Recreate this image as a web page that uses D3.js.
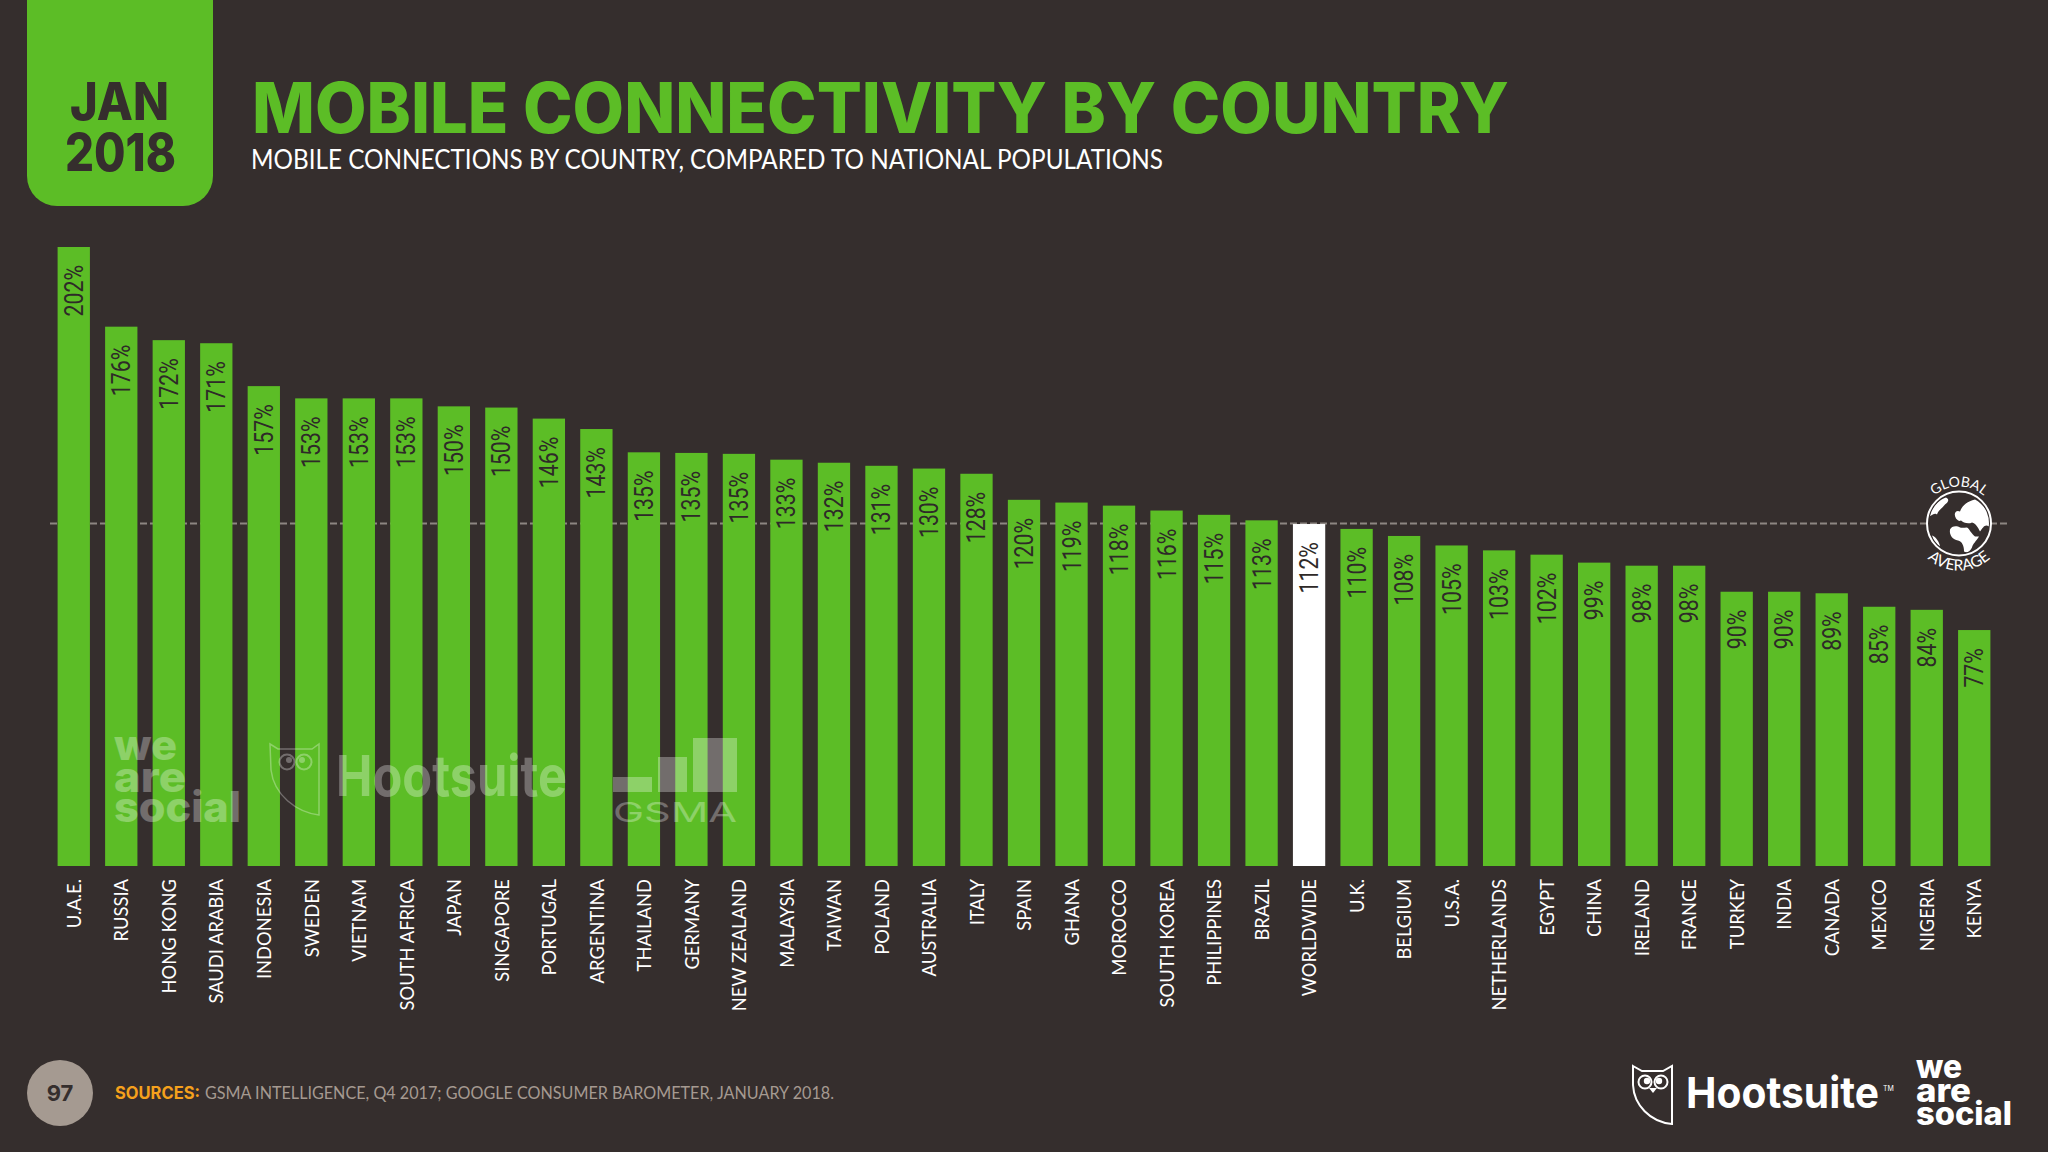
<!DOCTYPE html>
<html><head><meta charset="utf-8">
<script src="https://cdn.jsdelivr.net/npm/d3@7"></script>
<style>html,body{margin:0;padding:0;background:#352e2d;overflow:hidden}</style>
</head><body>
<svg id="c" width="2048" height="1152"></svg>
<script>
const countries = ["U.A.E.","RUSSIA","HONG KONG","SAUDI ARABIA","INDONESIA","SWEDEN","VIETNAM","SOUTH AFRICA","JAPAN","SINGAPORE","PORTUGAL","ARGENTINA","THAILAND","GERMANY","NEW ZEALAND","MALAYSIA","TAIWAN","POLAND","AUSTRALIA","ITALY","SPAIN","GHANA","MOROCCO","SOUTH KOREA","PHILIPPINES","BRAZIL","WORLDWIDE","U.K.","BELGIUM","U.S.A.","NETHERLANDS","EGYPT","CHINA","IRELAND","FRANCE","TURKEY","INDIA","CANADA","MEXICO","NIGERIA","KENYA"];
const penetration = [202,176,171.6,170.6,156.6,152.6,152.6,152.6,150,149.6,146,142.6,135,134.8,134.5,132.6,131.6,130.6,129.7,128,119.5,118.6,117.6,116,114.6,112.8,111.6,110,107.7,104.6,103,101.6,99,98,98,89.5,89.5,89,84.6,83.6,77];
const globalAverage = 111.8;
const highlighted = "WORLDWIDE";

const BG="#352e2d", GREEN="#5cbd26";
const svg=d3.select("#c");
svg.append("rect").attr("width",2048).attr("height",1152).attr("fill",BG);

const x=d3.scaleBand().domain(countries).range([50,1998]).paddingInner(0.32).paddingOuter(0.16);
const y=d3.scaleLinear().domain([0,202]).range([866,247]);

// average line
svg.append("line").attr("x1",50).attr("x2",2007).attr("y1",y(globalAverage)).attr("y2",y(globalAverage))
  .attr("stroke","#8d8682").attr("stroke-width",2).attr("stroke-dasharray","7 3");

// bars
svg.append("g").selectAll("rect").data(countries).join("rect")
  .attr("x",d=>x(d)).attr("width",x.bandwidth())
  .attr("y",(d,i)=>y(penetration[i])).attr("height",(d,i)=>y(0)-y(penetration[i]))
  .attr("fill",d=>d===highlighted?"#ffffff":GREEN);

// value labels
svg.append("g").selectAll("text").data(countries).join("text")
  .attr("transform",(d,i)=>`translate(${x(d)+x.bandwidth()/2+9},${y(penetration[i])+18}) rotate(-90) scale(0.82,1)`)
  .attr("text-anchor","end")
  .attr("font-family","Roboto,sans-serif")
  .attr("font-size",26).attr("fill","#2e2a28")
  .text((d,i)=>Math.round(penetration[i])+"%");

// category axis
const ax=svg.append("g").attr("transform","translate(0,866)").call(d3.axisBottom(x).tickSize(0));
ax.select(".domain").remove();
ax.selectAll("text").attr("transform","rotate(-90) translate(-13,0) scale(0.92,1)").attr("text-anchor","end")
  .attr("x",0).attr("y",0).attr("dy","0.36em")
  .attr("font-family","Lato,sans-serif").attr("font-size",20).attr("fill","#fff");

// watermarks
const wm=svg.append("g").attr("fill","#fff").attr("opacity",0.3).attr("font-family","Inter,sans-serif").attr("font-weight",800);
wm.append("text").attr("x",114).attr("y",760).attr("font-size",42).attr("textLength",63).attr("lengthAdjust","spacingAndGlyphs").text("we");
wm.append("text").attr("x",114).attr("y",792).attr("font-size",42).attr("textLength",72).attr("lengthAdjust","spacingAndGlyphs").text("are");
wm.append("text").attr("x",114).attr("y",822).attr("font-size",42).attr("textLength",127).attr("lengthAdjust","spacingAndGlyphs").text("social");
wm.append("text").attr("x",336).attr("y",796).attr("font-size",56).attr("font-weight",700).attr("textLength",231).attr("lengthAdjust","spacingAndGlyphs").text("Hootsuite");
wm.append("text").attr("x",613).attr("y",822).attr("font-size",27).attr("font-weight",400).attr("textLength",124).attr("lengthAdjust","spacingAndGlyphs").text("GSMA");
wm.append("path").attr("fill","none").attr("stroke","#fff").attr("stroke-width",1.5)
  .attr("d","M270 744 L278 749 H312 L319 744 V815 C296 812 274 795 271 770 Z");
wm.append("circle").attr("cx",287).attr("cy",762).attr("r",7.5).attr("fill","none").attr("stroke","#fff").attr("stroke-width",2);
wm.append("circle").attr("cx",304).attr("cy",762).attr("r",7.5).attr("fill","none").attr("stroke","#fff").attr("stroke-width",2);
wm.append("circle").attr("cx",289).attr("cy",760).attr("r",3);
wm.append("circle").attr("cx",302).attr("cy",760).attr("r",3);
[[613,777,39,15],[658,757,29,35],[693,738,44,54]].forEach(r=>
  wm.append("rect").attr("x",r[0]).attr("y",r[1]).attr("width",r[2]).attr("height",r[3]));

// header badge
svg.append("path").attr("fill",GREEN).attr("d","M27 0 H213 V176 A30 30 0 0 1 183 206 H57 A30 30 0 0 1 27 176 Z");
const head=svg.append("g").attr("font-family","Inter,sans-serif").attr("font-weight",800).attr("fill",BG);
head.append("text").attr("x",70).attr("y",120).attr("font-size",52).attr("textLength",99).attr("lengthAdjust","spacingAndGlyphs").text("JAN");
head.append("text").attr("x",65).attr("y",171).attr("font-size",52).attr("textLength",111).attr("lengthAdjust","spacingAndGlyphs").text("2018");

svg.append("text").attr("x",252).attr("y",133).attr("font-family","Inter,sans-serif").attr("font-weight",800)
  .attr("font-size",70).attr("fill",GREEN).attr("textLength",1257).attr("lengthAdjust","spacingAndGlyphs").text("MOBILE CONNECTIVITY BY COUNTRY");
svg.append("text").attr("x",251).attr("y",169).attr("font-family","Lato,sans-serif")
  .attr("font-size",27).attr("fill","#fff").attr("textLength",912).attr("lengthAdjust","spacingAndGlyphs").text("MOBILE CONNECTIONS BY COUNTRY, COMPARED TO NATIONAL POPULATIONS");

// footer
svg.append("circle").attr("cx",60).attr("cy",1093).attr("r",33).attr("fill","#a59a91");
svg.append("text").attr("x",60).attr("y",1101).attr("text-anchor","middle").attr("font-family","Inter,sans-serif").attr("font-weight",700).attr("font-size",22).attr("fill",BG).text("97");
svg.append("text").attr("x",115).attr("y",1099).attr("font-family","Inter,sans-serif").attr("font-weight",700).attr("font-size",17).attr("fill","#f5a11c").attr("textLength",85).attr("lengthAdjust","spacingAndGlyphs").text("SOURCES:");
svg.append("text").attr("x",205).attr("y",1099).attr("font-family","Lato,sans-serif").attr("font-size",17).attr("fill","#a59a91").attr("textLength",629).attr("lengthAdjust","spacingAndGlyphs").text("GSMA INTELLIGENCE, Q4 2017; GOOGLE CONSUMER BAROMETER, JANUARY 2018.");

// logos
const logo=svg.append("g").attr("fill","#fff").attr("font-family","Inter,sans-serif");
logo.append("path").attr("fill","none").attr("stroke","#fff").attr("stroke-width",2)
  .attr("d","M1633 1066 L1642 1071 H1663 L1672 1066 V1124 C1650 1122 1634 1105 1633 1085 Z");
logo.append("circle").attr("cx",1645).attr("cy",1082).attr("r",6.5).attr("fill","none").attr("stroke","#fff").attr("stroke-width",2);
logo.append("circle").attr("cx",1661).attr("cy",1082).attr("r",6.5).attr("fill","none").attr("stroke","#fff").attr("stroke-width",2);
logo.append("circle").attr("cx",1647).attr("cy",1081).attr("r",3.2);
logo.append("circle").attr("cx",1659).attr("cy",1081).attr("r",3.2);
logo.append("path").attr("d","M1649 1088 L1657 1088 L1653 1093 Z");
logo.append("text").attr("x",1686).attr("y",1108).attr("font-weight",700).attr("font-size",43).attr("textLength",193).attr("lengthAdjust","spacingAndGlyphs").text("Hootsuite");
logo.append("text").attr("x",1883).attr("y",1091).attr("font-size",7).text("TM");
[["we",1078,46],["are",1102,55],["social",1125,96]].forEach(([t,yy,len])=>logo.append("text").attr("x",1916).attr("y",yy).attr("font-weight",800).attr("font-size",32).attr("textLength",len).attr("lengthAdjust","spacingAndGlyphs").text(t));

// globe
const g=svg.append("g").attr("transform","translate(1959,523.5)");
const defs=svg.append("defs");
defs.append("clipPath").attr("id","disc").append("circle").attr("r",30);
g.append("circle").attr("r",32).attr("fill",BG).attr("stroke","#fff").attr("stroke-width",2);
const land=g.append("g").attr("fill","#fff").attr("clip-path","url(#disc)");
land.append("path").attr("d","M-9 6 C-10 12 -6 16 -1 17 C3 18 5 22 5 28 C8 30 11 28 13 24 C14 20 17 18 20 13 L16 13 C12 10 11 6 8 4 C4 4 2 5 -1 3 C-4 2 -8 3 -9 6Z");
land.append("path").attr("d","M-3 -5 C-6 -10 -3 -14 1 -12 C3 -18 8 -22 16 -24 C22 -21 28 -14 31 -6 L30 3 C26 0 24 4 21 8 C19 4 17 0 13 -1 C9 1 4 -1 2 -3 C0 -2 -1 -3 -3 -5Z");
land.append("path").attr("d","M-13 -26 C-20 -24 -27 -16 -30 -7 C-27 -8 -24 -11 -22 -9 C-21 -13 -17 -15 -14 -19 C-11 -21 -9 -24 -13 -26Z");
land.append("path").attr("d","M-27 12 C-24 13 -20 17 -19 23 C-23 20 -26 17 -27 12Z");
defs.append("path").attr("id","arcTop").attr("d","M-37 0 A37 37 0 0 1 37 0");
defs.append("path").attr("id","arcBot").attr("d","M-47 0 A47 47 0 0 0 47 0");
const lab=g.append("g").attr("fill","#fff").attr("font-family","Lato,sans-serif");
lab.append("text").attr("font-size",14).attr("text-anchor","middle").append("textPath").attr("href","#arcTop").attr("startOffset","50%").text("GLOBAL");
lab.append("text").attr("font-size",15.5).attr("text-anchor","middle").append("textPath").attr("href","#arcBot").attr("startOffset","50%").text("AVERAGE");
</script>
</body></html>
